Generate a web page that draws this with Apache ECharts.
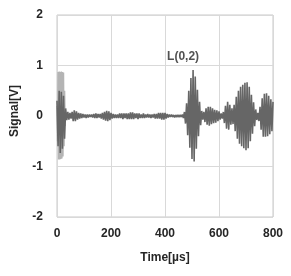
<!DOCTYPE html>
<html>
<head>
<meta charset="utf-8">
<script src="https://cdn.jsdelivr.net/npm/echarts@6/dist/echarts.min.js"></script>
<style>html,body{margin:0;padding:0;background:#fff}#c{width:291px;height:276px}</style>
</head>
<body>
<div id="c"></div>
<script>
// Sampling grid of the recorded waveform (µs)
const signalStart = 0;
const signalStep = 4;
const signalValues = [
  0.3,-0.6,0.5,-0.73,0.48,-0.65,0.4,-0.45,0.15,-0.08,
  0.08,-0.07,0.06,-0.05,0.08,-0.1,0.11,-0.1,0.09,-0.07,
  0.06,-0.05,0.05,-0.04,0.04,-0.03,0.03,-0.04,0.03,-0.03,
  0.03,-0.02,0.03,-0.03,0.04,-0.04,0.05,-0.04,0.04,-0.03,
  0.04,-0.05,0.06,-0.07,0.08,-0.09,0.1,-0.1,0.09,-0.08,
  0.06,-0.05,0.04,-0.04,0.03,-0.04,0.03,-0.04,0.05,-0.04,
  0.05,-0.06,0.05,-0.04,0.05,-0.06,0.05,-0.06,0.07,-0.06,
  0.07,-0.06,0.05,-0.04,0.05,-0.06,0.05,-0.04,0.03,-0.04,
  0.05,-0.04,0.03,-0.03,0.04,-0.03,0.03,-0.04,0.03,-0.03,
  0.04,-0.05,0.04,-0.05,0.06,-0.05,0.06,-0.07,0.06,-0.07,
  0.06,-0.05,0.04,-0.03,0.03,-0.02,0.03,-0.02,0.02,-0.03,
  0.02,-0.02,0.02,-0.02,0.02,-0.02,0.03,-0.04,0.08,-0.15,
  0.25,-0.38,0.5,-0.63,0.75,-0.85,0.91,-0.9,0.78,-0.65,
  0.52,-0.4,0.28,-0.18,0.1,-0.07,0.08,-0.12,0.15,-0.17,
  0.18,-0.19,0.18,-0.16,0.15,-0.14,0.12,-0.13,0.11,-0.1,
  0.09,-0.07,0.05,-0.05,0.08,-0.14,0.2,-0.25,0.28,-0.27,
  0.22,-0.17,0.15,-0.16,0.22,-0.3,0.38,-0.45,0.5,-0.55,
  0.58,-0.6,0.62,-0.64,0.66,-0.68,0.67,-0.64,0.58,-0.5,
  0.42,-0.35,0.27,-0.2,0.13,-0.08,0.06,-0.1,0.18,-0.27,
  0.35,-0.41,0.44,-0.41,0.45,-0.4,0.4,-0.36,0.33,-0.3,
  0.28
];
// Initial excitation burst (lighter trace), sampled every 2 µs from 0 µs
const burstStart = 0;
const burstStep = 2;
const burstValues = [0.2,-0.5,0.87,-0.86,0.88,-0.86,0.87,-0.85,0.88,-0.84,0.87,-0.8,0.86,-0.6,0.5,-0.2];
// Annotation
const annotationText = ['L(0,2)'];
const annotationPos = [[467, 1.17]];
// Axes
const xTicks = [0, 200, 400, 600, 800];
const yTicks = [-2, -1, 0, 1, 2];

const signalData = signalValues.map((v, i) => [signalStart + i * signalStep, v]);
const burstData = burstValues.map((v, i) => [burstStart + i * burstStep, v]);

const txt = '#262626';
const chart = echarts.init(document.getElementById('c'), null, {renderer: 'canvas'});
chart.setOption({
  animation: false,
  grid: {left: 57, right: 18, top: 15, bottom: 59, show: true, borderColor: '#c8c8c8', borderWidth: 1},
  xAxis: {
    type: 'value', min: xTicks[0], max: xTicks[xTicks.length - 1], interval: 200,
    name: 'Time[µs]', nameLocation: 'middle', nameGap: 35,
    nameTextStyle: {fontFamily: 'Liberation Sans', fontWeight: 'bold', fontSize: 12, color: txt},
    axisLine: {show: false}, axisTick: {show: false},
    axisLabel: {margin: 11, fontFamily: 'Liberation Sans', fontWeight: 'bold', fontSize: 12, color: txt},
    splitLine: {show: true, lineStyle: {color: '#d9d9d9', width: 1}}
  },
  yAxis: {
    type: 'value', min: yTicks[0], max: yTicks[yTicks.length - 1], interval: 1,
    axisLine: {show: false}, axisTick: {show: false},
    axisLabel: {margin: 14, fontFamily: 'Liberation Sans', fontWeight: 'bold', fontSize: 12, color: txt},
    splitLine: {show: true, lineStyle: {color: '#d9d9d9', width: 1}}
  },
  graphic: [{
    type: 'text', x: 15, y: 111, rotation: Math.PI / 2,
    style: {text: 'Signal[V]', fontFamily: 'Liberation Sans', fontWeight: 'bold', fontSize: 12, fill: txt, align: 'center', verticalAlign: 'middle'}
  }],
  series: [
    {type: 'line', data: burstData, showSymbol: false, lineStyle: {color: '#b4b4b4', width: 1.5}, z: 2},
    {type: 'line', data: signalData, showSymbol: false, lineStyle: {color: '#666666', width: 1.6}, z: 3},
    {type: 'scatter', data: annotationPos.map((p, i) => ({value: p, name: annotationText[i]})), symbolSize: 0,
     label: {show: true, position: 'inside', formatter: p => p.name, fontFamily: 'Liberation Sans', fontWeight: 'bold', fontSize: 12, color: txt}, z: 4}
  ]
});
</script>
</body>
</html>
